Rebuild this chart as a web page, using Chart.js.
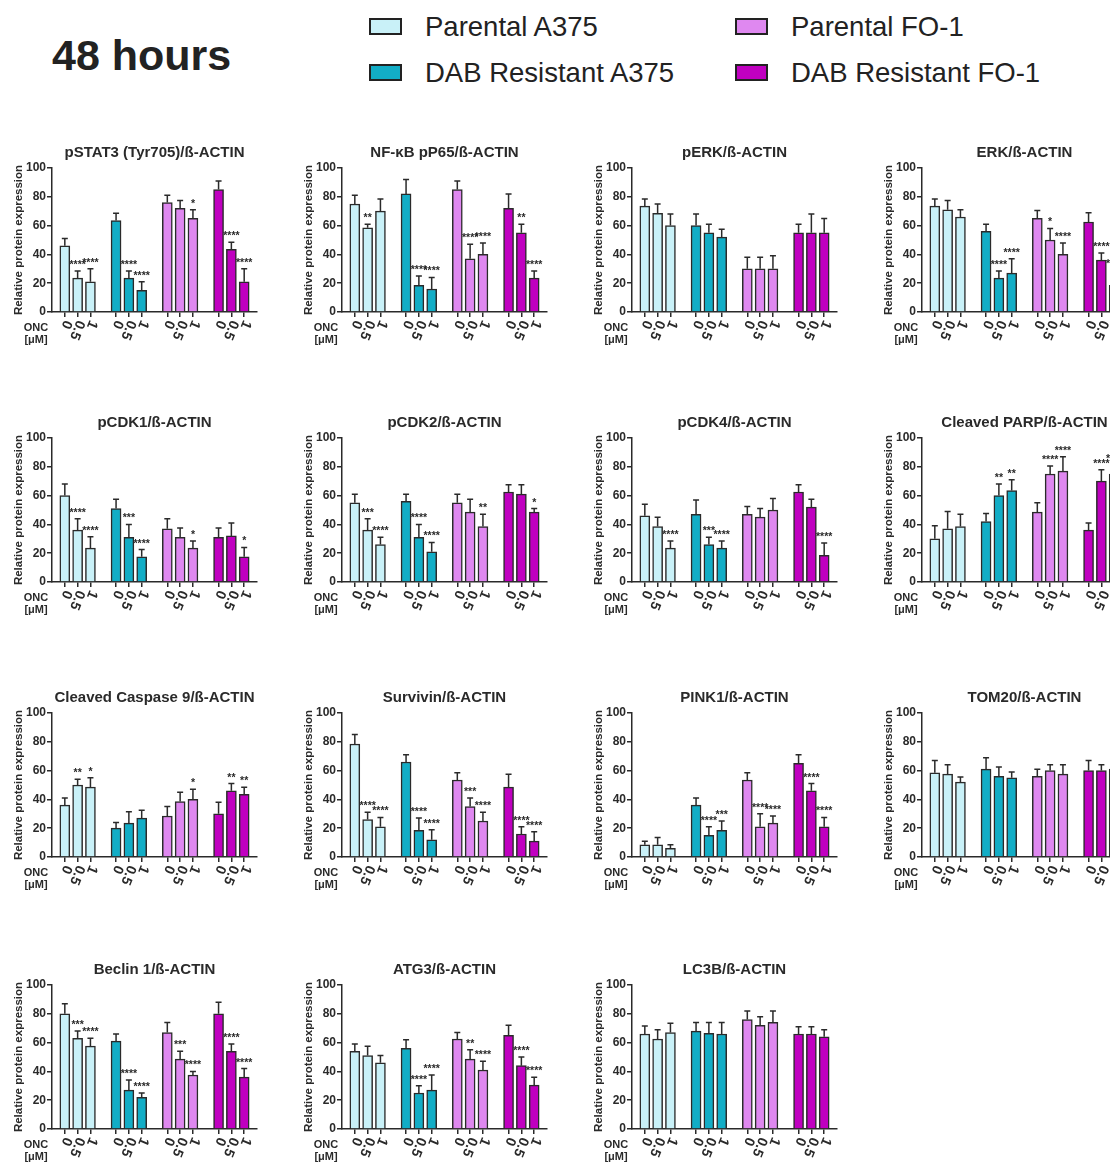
<!DOCTYPE html>
<html lang="en">
<head>
<meta charset="UTF-8">
<title>48 hours</title>
<script src="https://cdn.jsdelivr.net/npm/chart.js"></script>
<style>
  body { margin: 0; background: #fff; }
  #page { position: relative; width: 1110px; height: 1163px; overflow: hidden;
          font-family: "Liberation Sans", Arial, sans-serif; color: #222; }
  #heading { position: absolute; left: 52px; top: 30px; font-weight: bold; font-size: 43px; line-height: 50px; }
  .leg { position: absolute; font-size: 27.5px; line-height: 32px; white-space: nowrap; }
  .box { position: absolute; width: 29px; height: 13px; border: 2.5px solid #222; }
  canvas { position: absolute; }
</style>
</head>
<body>
<div id="page">
  <div id="heading">48 hours</div>
  <div class="box" style="left:369px; top:18px; background:#c9f1f8"></div>
  <div class="leg" style="left:425px; top:11px">Parental A375</div>
  <div class="box" style="left:369px; top:64px; background:#12adc6"></div>
  <div class="leg" style="left:425px; top:57px">DAB Resistant A375</div>
  <div class="box" style="left:735px; top:18px; background:#df88f0"></div>
  <div class="leg" style="left:791px; top:11px">Parental FO-1</div>
  <div class="box" style="left:735px; top:64px; background:#c000c0"></div>
  <div class="leg" style="left:791px; top:57px">DAB Resistant FO-1</div>
</div>

<script>
// groupes et doses
const groupNames = ['Parental A375', 'DAB Resistant A375', 'Parental FO-1', 'DAB Resistant FO-1'];
const doseLabels = ['0', '0.5', '1'];
const groupColors = ['#c9f1f8', '#12adc6', '#df88f0', '#c000c0'];

const titles = ['pSTAT3 (Tyr705)/ß-ACTIN', 'NF-κB pP65/ß-ACTIN', 'pERK/ß-ACTIN', 'ERK/ß-ACTIN',
  'pCDK1/ß-ACTIN', 'pCDK2/ß-ACTIN', 'pCDK4/ß-ACTIN', 'Cleaved PARP/ß-ACTIN',
  'Cleaved Caspase 9/ß-ACTIN', 'Survivin/ß-ACTIN', 'PINK1/ß-ACTIN', 'TOM20/ß-ACTIN',
  'Beclin 1/ß-ACTIN', 'ATG3/ß-ACTIN', 'LC3B/ß-ACTIN'];

// moyennes, écarts (barre d'erreur haute) et significativité, 12 barres par panneau
const pstat3 = [46, 23.5, 21, 63.5, 23.5, 15, 76, 72, 65, 85, 43.5, 21];
const pstat3Sd = [5, 5, 9, 5, 5, 6, 5, 5.5, 6, 6, 5, 9];
const pstat3Sig = ['', '****', '****', '', '****', '****', '', '', '*', '', '****', '****'];

const nfkb = [75, 58.5, 70, 82, 18.5, 16, 85, 37, 40, 72, 55, 23.5];
const nfkbSd = [6, 2.5, 8.5, 10, 6.5, 8, 6, 10, 8, 10, 6, 5];
const nfkbSig = ['', '**', '', '', '****', '****', '', '****', '****', '', '**', '****'];

const perk = [73.5, 68.5, 60, 60, 55, 52, 30, 30, 30, 55, 55, 55];
const perkSd = [5, 6.5, 8, 8, 6, 5.5, 8, 8, 9, 6, 13, 10];
const perkSig = ['', '', '', '', '', '', '', '', '', '', '', ''];

const erk = [73.5, 71, 66, 56, 23.5, 27, 65, 50, 40, 62.5, 36, 18.5];
const erkSd = [5, 6.5, 5, 5, 5, 10, 5.5, 8, 8, 6.5, 5, 10.5];
const erkSig = ['', '', '', '', '****', '****', '', '*', '****', '', '****', '****'];

const pcdk1 = [60, 36, 23.5, 51, 31, 17.5, 37, 31, 23.5, 31, 32, 17.5];
const pcdk1Sd = [8, 8, 8, 6.5, 9, 5, 7, 6.5, 5, 6.5, 9, 6.5];
const pcdk1Sig = ['', '****', '****', '', '***', '****', '', '', '*', '', '', '*'];

const pcdk2 = [55, 36, 26, 56, 31, 21, 55, 48.5, 38.5, 62.5, 61, 48.5];
const pcdk2Sd = [6, 8, 5, 5, 9, 6.5, 6, 9, 8.5, 5, 6.5, 2.5];
const pcdk2Sig = ['', '***', '****', '', '****', '****', '', '', '**', '', '', '*'];

const pcdk4 = [46, 38.5, 23.5, 47, 26, 23.5, 47, 45, 50, 62.5, 52, 18.5];
const pcdk4Sd = [8, 6.5, 5, 10, 5, 5, 5.5, 6, 8, 5, 5.5, 8.5];
const pcdk4Sig = ['', '', '****', '', '***', '****', '', '', '', '', '', '****'];

const parp = [30, 37, 38.5, 42, 60, 63.5, 48.5, 75, 77, 36, 70, 75];
const parpSd = [9, 12, 8.5, 5.5, 8, 7.5, 6.5, 5.5, 10, 5, 8, 6];
const parpSig = ['', '', '', '', '**', '**', '', '****', '****', '', '****', '****'];

const casp9 = [36, 50, 48.5, 20, 23.5, 27, 28.5, 38.5, 40, 30, 46, 43.5];
const casp9Sd = [5, 4, 6.5, 4, 8, 5.5, 6.5, 6.5, 7, 8, 5, 5];
const casp9Sig = ['', '**', '*', '', '', '', '', '', '*', '', '**', '**'];

const survivin = [78.5, 26, 21, 66, 18.5, 12, 53.5, 35, 25, 48.5, 16, 11];
const survivinSd = [6.5, 5, 6.5, 5, 8.5, 7, 5, 6, 6, 9, 5, 6.5];
const survivinSig = ['', '****', '****', '', '****', '****', '', '***', '****', '', '****', '****'];

const pink1 = [8.5, 8.5, 6, 36, 15, 18.5, 53.5, 21, 23.5, 65, 46, 21];
const pink1Sd = [2.5, 5, 2.5, 5, 6, 6.5, 5, 9, 5, 6, 5, 6.5];
const pink1Sig = ['', '', '', '', '****', '***', '', '****', '****', '', '****', '****'];

const tom20 = [58.5, 57.5, 52, 61, 56, 55, 56, 60, 57.5, 60, 60, 61];
const tom20Sd = [8.5, 6.5, 3.5, 8, 6.5, 4, 5, 4, 6.5, 7, 4, 5];
const tom20Sig = ['', '', '', '', '', '', '', '', '', '', '', ''];

const beclin1 = [80, 63, 57.5, 61, 27, 22, 67, 48.5, 37.5, 80, 54, 36];
const beclin1Sd = [7, 5, 5.5, 5, 7, 3, 7, 5.5, 2.5, 8, 5, 6];
const beclin1Sig = ['', '***', '****', '', '****', '****', '', '***', '****', '', '****', '****'];

const atg3 = [54, 51, 46, 56, 25, 27, 62.5, 48.5, 41, 65, 44, 30.5];
const atg3Sd = [5, 6.5, 5, 6, 5, 10.5, 4.5, 6.5, 6, 7, 6, 5.5];
const atg3Sig = ['', '', '', '', '****', '****', '', '**', '****', '', '****', '****'];

const lc3b = [66, 62.5, 67, 68, 66.5, 66, 76, 72, 74, 66, 66, 64];
const lc3bSd = [5.5, 6.5, 6.5, 6, 7.5, 8, 6, 6, 8, 5, 5, 5];
const lc3bSig = ['', '', '', '', '', '', '', '', '', '', '', ''];

const panels = [
  [pstat3, pstat3Sd, pstat3Sig], [nfkb, nfkbSd, nfkbSig], [perk, perkSd, perkSig], [erk, erkSd, erkSig],
  [pcdk1, pcdk1Sd, pcdk1Sig], [pcdk2, pcdk2Sd, pcdk2Sig], [pcdk4, pcdk4Sd, pcdk4Sig], [parp, parpSd, parpSig],
  [casp9, casp9Sd, casp9Sig], [survivin, survivinSd, survivinSig], [pink1, pink1Sd, pink1Sig], [tom20, tom20Sd, tom20Sig],
  [beclin1, beclin1Sd, beclin1Sig], [atg3, atg3Sd, atg3Sig], [lc3b, lc3bSd, lc3bSig]
];

const colX = [0, 290, 580, 870];
const rowY = [140, 410, 685, 957];
const FONT = '"Liberation Sans", Arial, sans-serif';
const INK = '#2a2a2a';

Chart.defaults.font.family = FONT;
Chart.defaults.color = INK;

// 12 valeurs -> 17 cases, avec une case vide avant, entre et après chaque groupe
function spread(arr) {
  const out = [null];
  for (let g = 0; g < 4; g++) {
    for (let k = 0; k < 3; k++) out.push(arr[g * 3 + k]);
    out.push(null);
  }
  return out;
}
const slotLabels = spread(groupNames.flatMap(() => doseLabels)).map(l => l || '');
const slotColors = spread(groupColors.flatMap(c => [c, c, c]));

// barres d'erreur, étoiles, titre et étiquettes tournées
const panelExtras = {
  id: 'panelExtras',
  afterDatasetsDraw(chart, args, o) {
    const ctx = chart.ctx, xs = chart.scales.x, ys = chart.scales.y, area = chart.chartArea;
    ctx.save();
    ctx.strokeStyle = INK;
    ctx.fillStyle = INK;
    ctx.lineWidth = 1.5;
    o.values.forEach((v, i) => {
      if (v == null) return;
      const px = xs.getPixelForValue(i);
      const y0 = ys.getPixelForValue(v);
      const y1 = ys.getPixelForValue(v + o.errs[i]);
      ctx.beginPath();
      ctx.moveTo(px, y0); ctx.lineTo(px, y1);
      ctx.moveTo(px - 3, y1); ctx.lineTo(px + 3, y1);
      ctx.stroke();
      if (o.stars[i]) {
        ctx.font = 'bold 10.5px ' + FONT;
        ctx.textAlign = 'center';
        ctx.textBaseline = 'alphabetic';
        ctx.fillText(o.stars[i], px, y1 - 3);
      }
    });

    // étiquettes des doses
    ctx.font = 'bold 14px ' + FONT;
    ctx.textAlign = 'left';
    ctx.textBaseline = 'middle';
    slotLabels.forEach((lab, i) => {
      if (!lab) return;
      ctx.save();
      ctx.translate(xs.getPixelForValue(i) + 3, area.bottom + 9);
      ctx.rotate(112 * Math.PI / 180);
      ctx.fillText(lab, 0, 0);
      ctx.restore();
    });

    ctx.textAlign = 'center';
    ctx.font = 'bold 11px ' + FONT;
    ctx.fillText('ONC', 36, area.bottom + 16);
    ctx.fillText('[μM]', 36, area.bottom + 28);

    ctx.font = 'bold 15px ' + FONT;
    ctx.fillText(o.title, (area.left + area.right) / 2, 13);
    ctx.restore();
  }
};

const page = document.getElementById('page');

panels.forEach((p, idx) => {
  const canvas = document.createElement('canvas');
  canvas.width = 290;
  canvas.height = 215;
  canvas.style.left = colX[idx % 4] + 'px';
  canvas.style.top = rowY[Math.floor(idx / 4)] + 'px';
  page.appendChild(canvas);

  const values = spread(p[0]);
  new Chart(canvas, {
    type: 'bar',
    data: {
      labels: slotLabels,
      datasets: [{
        data: values,
        backgroundColor: slotColors,
        borderColor: INK,
        borderWidth: 1.5,
        barThickness: 10
      }]
    },
    options: {
      responsive: false,
      animation: false,
      layout: { padding: { top: 28, right: 33, left: 0, bottom: 0 } },
      plugins: {
        legend: { display: false },
        tooltip: { enabled: false },
        panelExtras: { title: titles[idx], values: values, errs: spread(p[1]), stars: spread(p[2]) }
      },
      scales: {
        x: {
          offset: false,
          ticks: { display: false },
          grid: {
            offset: false, drawOnChartArea: false, tickLength: 5, lineWidth: 1.5,
            color: c => slotLabels[c.index] ? INK : 'rgba(0,0,0,0)'
          },
          border: { color: INK, width: 1.5 },
          afterFit: s => { s.height = 43; }
        },
        y: {
          min: 0, max: 100,
          ticks: { stepSize: 20, padding: 1, font: { size: 12, weight: 'bold' }, color: INK },
          grid: { drawOnChartArea: false, tickLength: 5, lineWidth: 1.5, color: INK },
          border: { color: INK, width: 1.5 },
          title: {
            display: true, text: 'Relative protein expression', color: INK,
            font: { size: 11.5, weight: 'bold' }, padding: { top: 12, bottom: 0 }
          },
          afterFit: s => { s.width = 52; }
        }
      }
    },
    plugins: [panelExtras]
  });
});
</script>
</body>
</html>
